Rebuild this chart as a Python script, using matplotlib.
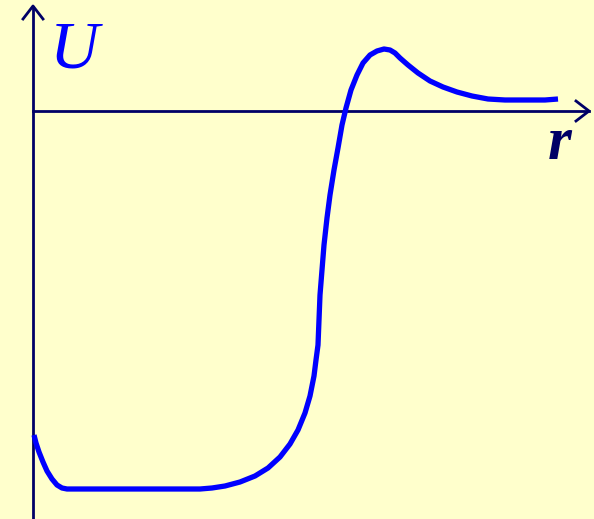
import numpy as np
import matplotlib.pyplot as plt

# potential energy U(r), origin at the axes crossing
r = [1, 3, 6, 10, 14, 19, 24, 29, 34, 167, 179, 192, 207, 222, 235, 247,
     257, 265, 272, 277, 281, 283, 285, 286, 287, 289, 291, 294, 297, 301,
     305, 309, 313, 318, 324, 330, 337, 344, 351, 357, 362, 367, 375, 385,
     397, 410, 424, 439, 455, 472, 492, 512, 525]
U = [-324, -332, -341, -351, -360, -368, -374, -377, -378, -378, -377, -375,
     -371, -365, -357, -346, -333, -319, -302, -285, -265, -249, -234, -209,
     -184, -159, -134, -107, -84, -59, -37, -14, 3, 21, 36, 48, 56, 60, 62,
     61, 58, 53, 46, 38, 30, 24, 19, 15, 12, 11, 11, 11, 12]

bg = '#ffffcc'
navy = '#000066'

fig = plt.figure(figsize=(5.94, 5.19), dpi=100, facecolor=bg)
ax = fig.add_axes([0, 0, 1, 1])
ax.set_facecolor(bg)
ax.set_xlim(-33, 561)
ax.set_ylim(-408, 111)
ax.axis('off')

# axes with open arrow heads
ax.plot([0, 0], [-410, 104], color=navy, lw=2)
ax.plot([-10, 0, 10], [92, 105, 92], color=navy, lw=2)
ax.plot([0, 556], [0, 0], color=navy, lw=2)
ax.plot([543, 556, 543], [10, 0, -10], color=navy, lw=2)

ax.plot(r, U, color='#0000ff', lw=3.8, solid_capstyle='butt', solid_joinstyle='round')

ax.text(41, 60, 'U', color='#0000ff', fontsize=49, fontstyle='italic',
        family='Liberation Serif', ha='center', va='center')
ax.text(527, -33, 'r', color=navy, fontsize=44, fontstyle='italic', fontweight='bold',
        family='Liberation Serif', ha='center', va='center')

fig.savefig('out.png', dpi=100, facecolor=bg)
